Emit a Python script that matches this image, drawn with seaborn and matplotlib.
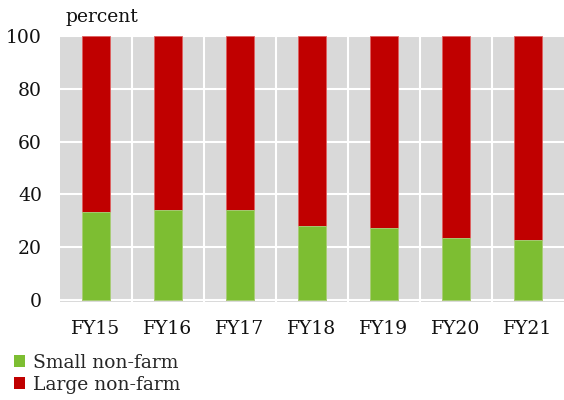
import matplotlib
matplotlib.use("Agg")
import matplotlib.pyplot as plt
import seaborn as sns
import pandas as pd
from matplotlib.patches import Patch

categories = ["FY15", "FY16", "FY17", "FY18", "FY19", "FY20", "FY21"]
small_nonfarm = [33.4, 34.1, 34.1, 28.1, 27.4, 23.6, 22.8]
large_nonfarm = [100 - v for v in small_nonfarm]
y_ticks = [0, 20, 40, 60, 80, 100]

GREEN = "#7DBE32"
RED = "#C00000"
GRAY = "#D9D9D9"

sns.set_style("white")
plt.rcParams["font.family"] = ["DejaVu Serif"]

df = pd.DataFrame({
    "year": categories,
    "small": small_nonfarm,
    "large": large_nonfarm,
})
df["total"] = df["small"] + df["large"]

FS = 13.5

fig = plt.figure(figsize=(5.64, 4.0), dpi=100)
ax = fig.add_axes([60 / 564, (400 - 301.5) / 400, 504 / 564, (301.5 - 36) / 400])
ax.set_facecolor(GRAY)

sns.barplot(data=df, x="year", y="total", color=RED, width=0.4, ax=ax,
            saturation=1, edgecolor="#E06060", linewidth=0.6, zorder=3)
sns.barplot(data=df, x="year", y="small", color=GREEN, width=0.4, ax=ax,
            saturation=1, edgecolor="#A8D880", linewidth=0.6, zorder=3)

ax.set_xlim(-0.5, len(categories) - 0.5)
ax.set_ylim(-0.6, 100)
ax.set_yticks(y_ticks)
ax.set_yticklabels([str(t) for t in y_ticks])
ax.set_xticks(range(len(categories)))
ax.set_xticks([i + 0.5 for i in range(len(categories) - 1)], minor=True)
ax.grid(axis="y", which="major", color="white", linewidth=1.5, zorder=1)
ax.grid(axis="x", which="minor", color="white", linewidth=1.5, zorder=1)
ax.grid(axis="x", which="major", visible=False)
ax.set_axisbelow(True)
ax.set_xlabel("")
ax.set_ylabel("")
for s in ax.spines.values():
    s.set_visible(False)
ax.tick_params(axis="both", which="both", length=0, labelsize=FS, colors="#111111")
ax.tick_params(axis="y", pad=13)
ax.tick_params(axis="x", pad=13)

fig.text(65 / 564, 1 - 17 / 400, "percent", fontsize=FS, va="center", ha="left", color="#111111")

handles = [Patch(facecolor=GREEN, edgecolor="none"), Patch(facecolor=RED, edgecolor="none")]
fig.legend(handles, ["Small non-farm", "Large non-farm"], loc="upper left",
           bbox_to_anchor=(12 / 564, 1 - 352 / 400), frameon=False, fontsize=FS,
           handlelength=0.6, handleheight=0.6, handletextpad=0.4,
           labelspacing=0.22, borderpad=0.1, borderaxespad=0)

fig.savefig("out.png", dpi=100)
